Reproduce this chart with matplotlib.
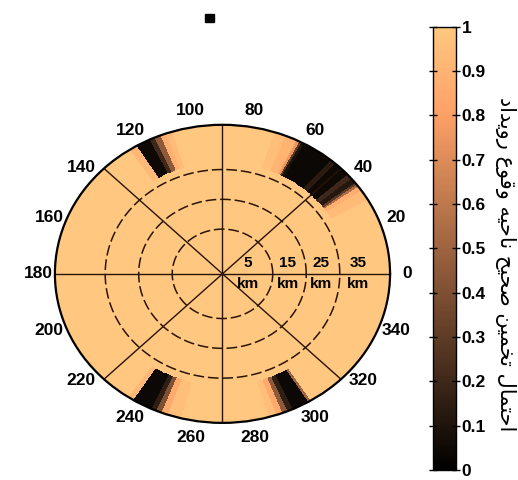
import numpy as np
import matplotlib
matplotlib.use('Agg')
import matplotlib.pyplot as plt
from matplotlib.patches import Rectangle

# ---------------- data ----------------
theta_bin_deg = np.arange(0, 361, 1)          # angular bin edges (deg)
radial_edges = [0.0, 0.75, 1.0]               # radial bin edges (normalized)
ring_radii = [0.3, 0.5, 0.7]                  # km rings
ring_labels = ['5', '15', '25', '35']
ring_label_r = [0.15, 0.39, 0.59, 0.81]
spoke_deg = [0, 45, 90, 135, 180, 225, 270, 315]
theta_ticks = list(range(0, 360, 20))
# outer annulus probability: (start deg, end deg, value); elsewhere 1
outer_segments = [
    (30, 34, 0.94), (34, 36, 0.88), (36, 37, 0.55), (37, 38, 0.3),
    (38, 40, 0.12), (40, 42, 0.2), (42, 48, 0.05), (48, 50, 0.14),
    (50, 61, 0.04), (61, 62, 0.1), (62, 63, 0.3), (63, 64, 0.75),
    (64, 68, 0.9), (68, 72, 0.96),
    (108, 110, 0.94), (110, 112, 0.88), (112, 114, 0.45), (114, 116, 0.2),
    (116, 121, 0.05), (121, 124, 0.92),
    (236, 238, 0.92), (238, 245, 0.04), (245, 247, 0.15), (247, 249, 0.4),
    (249, 251, 0.85), (251, 256, 0.96),
    (286, 289, 0.95), (289, 291, 0.85), (291, 293, 0.45), (293, 295, 0.15),
    (295, 301, 0.04), (301, 302, 0.5),
]
cbar_ticks = [0, 0.1, 0.2, 0.3, 0.4, 0.5, 0.6, 0.7, 0.8, 0.9, 1]
cbar_ticklabels = ['0', '0.1', '0.2', '0.3', '0.4', '0.5', '0.6', '0.7', '0.8', '0.9', '1']
cbar_label = 'احتمال تخمین صحیح ناحیه وقوع رویداد'

# ---------------- simple Arabic-script shaping ----------------
FORMS = {
    'ا': ('\uFE8D', '\uFE8E', None, None),
    'د': ('\uFEA9', '\uFEAA', None, None),
    'ر': ('\uFEAD', '\uFEAE', None, None),
    'و': ('\uFEED', '\uFEEE', None, None),
    'ح': ('\uFEA1', '\uFEA2', '\uFEA3', '\uFEA4'),
    'خ': ('\uFEA5', '\uFEA6', '\uFEA7', '\uFEA8'),
    'ت': ('\uFE95', '\uFE96', '\uFE97', '\uFE98'),
    'م': ('\uFEE1', '\uFEE2', '\uFEE3', '\uFEE4'),
    'ل': ('\uFEDD', '\uFEDE', '\uFEDF', '\uFEE0'),
    'ن': ('\uFEE5', '\uFEE6', '\uFEE7', '\uFEE8'),
    'ص': ('\uFEB9', '\uFEBA', '\uFEBB', '\uFEBC'),
    'ه': ('\uFEE9', '\uFEEA', '\uFEEB', '\uFEEC'),
    'ق': ('\uFED5', '\uFED6', '\uFED7', '\uFED8'),
    'ع': ('\uFEC9', '\uFECA', '\uFECB', '\uFECC'),
    'ی': ('\uFBFC', '\uFBFD', '\uFBFE', '\uFBFF'),
}


def shape(text):
    out = []
    n = len(text)
    for i, ch in enumerate(text):
        if ch not in FORMS:
            out.append(ch)
            continue
        prev = text[i - 1] if i > 0 else None
        nxt = text[i + 1] if i < n - 1 else None
        jp = prev in FORMS and FORMS[prev][2] is not None
        jn = nxt in FORMS and FORMS[ch][2] is not None
        iso, fin, ini, med = FORMS[ch]
        if jp and jn:
            out.append(med)
        elif jp:
            out.append(fin)
        elif jn:
            out.append(ini)
        else:
            out.append(iso)
    return ''.join(out)[::-1]


# ---------------- figure ----------------
plt.rcParams['font.family'] = ['Liberation Sans', 'DejaVu Sans']
plt.rcParams['font.weight'] = 'bold'

fig = plt.figure(figsize=(5.18, 4.8), dpi=100)
ax = fig.add_axes([0.106, 0.119, 0.647, 0.621], projection='polar')
ax.set_aspect('auto')

outer = np.ones(360)
for s, e, v in outer_segments:
    outer[s:e] = v
Z = np.vstack([np.ones(360), outer])

mesh = ax.pcolormesh(np.deg2rad(theta_bin_deg), radial_edges, Z,
                     cmap='copper', vmin=0, vmax=1, shading='flat')

ax.set_ylim(0, 1)
ax.set_yticks([])
ax.set_thetagrids(theta_ticks, labels=[str(t) for t in theta_ticks])
ax.set_xticks(np.deg2rad(np.arange(10, 360, 20)), minor=True)
ax.grid(False)
ax.tick_params(axis='x', which='both', direction='out', length=4, width=1,
               color='black', labelsize=12.5, pad=1)
ax.spines['polar'].set_linewidth(1.6)

line_col = (0.16, 0.08, 0.02)
th = np.linspace(0, 2 * np.pi, 721)
for r in ring_radii:
    ax.plot(th, np.full_like(th, r), color=line_col, lw=1.1, ls=(0, (7, 2.5)))
for d in spoke_deg:
    ax.plot([np.deg2rad(d)] * 2, [0, 1], color=line_col, lw=1.0)

for lab, r in zip(ring_labels, ring_label_r):
    ax.annotate(lab, (0, r), xytext=(0, 7.5), textcoords='offset points',
                ha='center', va='center', fontsize=11, color='black')
    ax.annotate('km', (0, r), xytext=(0, -7.5), textcoords='offset points',
                ha='center', va='center', fontsize=11, color='black')

# colorbar
cax = fig.add_axes([0.836, 0.021, 0.044, 0.923])
cb = fig.colorbar(mesh, cax=cax, ticks=cbar_ticks)
cb.ax.set_yticklabels(cbar_ticklabels)
cb.ax.tick_params(left=True, right=True, direction='inout', length=6,
                  width=1, labelsize=12.5, pad=1)
cb.outline.set_linewidth(1)

fig.text(0.975, 0.45, shape(cbar_label), rotation=270, ha='center',
         va='center', fontsize=15, family=['DejaVu Sans'], weight='normal')

fig.add_artist(Rectangle((0.396, 0.954), 0.017, 0.017,
                         transform=fig.transFigure, color='black'))

fig.savefig('out.png', dpi=100)
